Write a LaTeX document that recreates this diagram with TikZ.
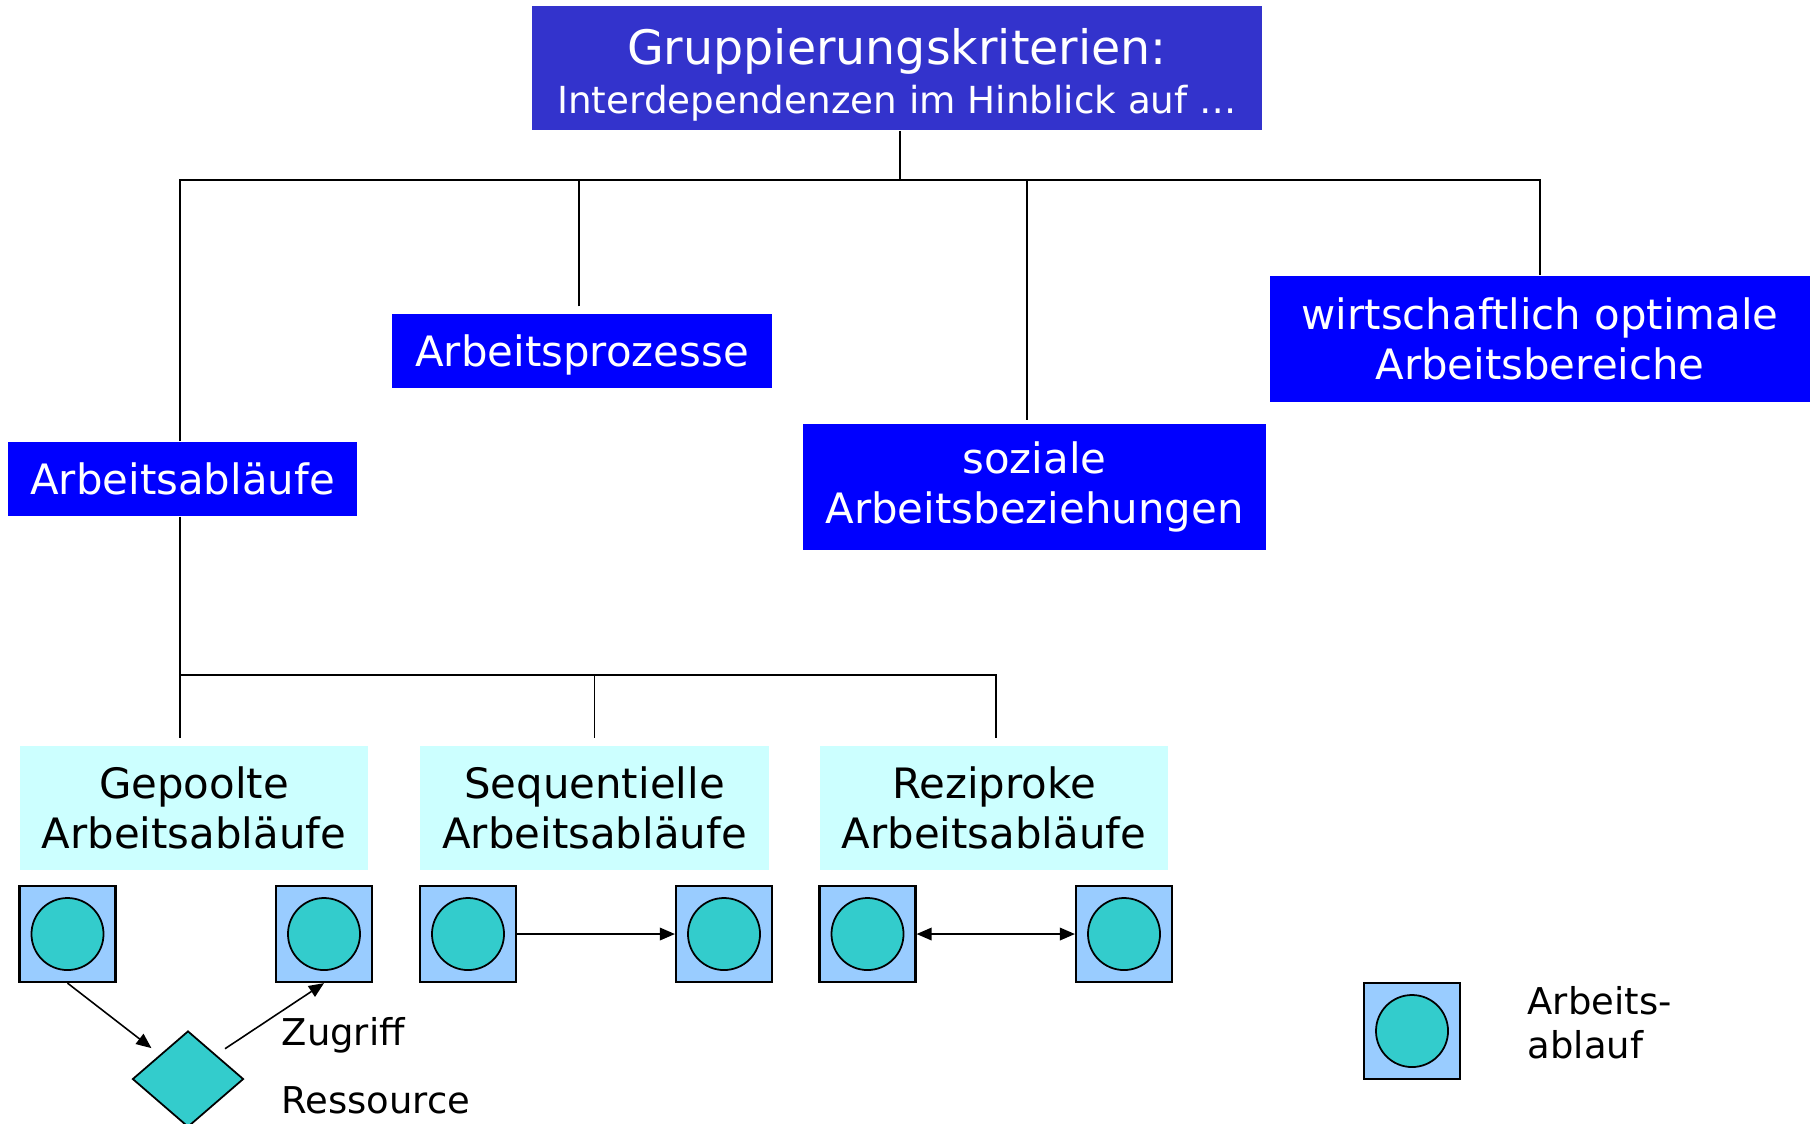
\documentclass[tikz,border=0pt]{standalone}
\usepackage{fontspec}
\setmainfont{DejaVu Sans}
\usetikzlibrary{arrows.meta}
\usetikzlibrary{shapes.geometric}
\definecolor{hd}{RGB}{51,51,204}
\definecolor{bl}{RGB}{0,0,255}
\definecolor{cy}{RGB}{204,255,255}
\definecolor{sq}{RGB}{153,204,255}
\definecolor{ci}{RGB}{51,204,204}

\begin{document}
\begin{tikzpicture}[
    x=0.01cm, y=-0.01cm,
    l/.style={
        line width=0.45pt,
        color=black
    },
    a/.style={
        line width=0.45pt,
        -{Triangle[length=4.3pt,width=3.6pt]}
    },
    hb/.style={
        fill=bl, text=white, inner sep=0pt, align=center,
        font={\fontsize{11.9}{14.4}\selectfont}
    },
    kb/.style={
        fill=cy, inner sep=0pt, align=center,
        minimum width=3.48cm, minimum height=1.24cm,
        font={\fontsize{11.9}{14.4}\selectfont}
    },
    ab/.style={
        draw, fill=sq, line width=0.6pt, inner sep=0pt, minimum size=0.96cm,
        path picture={\draw [fill=ci, line width=0.5pt]
            (path picture bounding box.center) circle (0.36cm);}
    },
    res/.style={
        diamond, draw, fill=ci, line width=0.5pt, inner sep=0pt,
        minimum width=1.11cm, minimum height=0.96cm
    },
    lab/.style={anchor=west, align=left, inner sep=0pt,
        font={\fontsize{10.5}{12.4}\selectfont}}
]
    \useasboundingbox (0,0) rectangle (1810,1123);

    % upper level
    \node [hb, fill=hd, minimum width=7.3cm, minimum height=1.24cm] (top) at (897,68) {};
    \node [hb, fill=none] (toptxt) at ([yshift=-0.07cm]top.center)
        {{\fontsize{13.5}{16}\selectfont Gruppierungskriterien:}\\[-0.3pt]
         {\fontsize{10.6}{13}\selectfont Interdependenzen im Hinblick auf \dots}};
    \node [hb, minimum width=3.49cm, minimum height=0.74cm] (ablauf)  at (182.5,479) {Arbeitsabläufe};
    \node [hb, minimum width=3.80cm, minimum height=0.74cm, text depth=0pt] (prozess) at (582,351) {Arbeitsprozesse};
    \node [hb, minimum width=4.63cm, minimum height=1.26cm] (sozial)  at (1034.5,487) {soziale\\Arbeitsbeziehungen};
    \node [hb, minimum width=5.40cm, minimum height=1.26cm] (wirt)    at (1540,339)  {wirtschaftlich optimale\\Arbeitsbereiche};

    \coordinate (bus) at (180,180);
    \draw [l] ([xshift=0.03cm]top.south) -- ([xshift=0.03cm]top.south |- bus);
    \draw [l] (bus |- ablauf.north) -- (bus) -| (wirt.north);
    \draw [l, shorten <=2pt] ([xshift=-0.03cm]prozess.north) -- ([xshift=-0.03cm]prozess.north |- bus);
    \draw [l, shorten <=1pt] ([xshift=-0.075cm]sozial.north) -- ([xshift=-0.075cm]sozial.north |- bus);

    % lower level
    \node [kb] (gepoolt) at (194,808)   {Gepoolte\\Arbeitsabläufe};
    \node [kb] (sequ)    at (594.5,808) {Sequentielle\\Arbeitsabläufe};
    \node [kb] (rezi)    at (994,808)   {Reziproke\\Arbeitsabläufe};

    \coordinate (bus2) at (180,675);
    \draw [l, shorten >=2pt] (bus2 |- ablauf.south) -- (bus2 |- gepoolt.north);
    \draw [l, shorten >=2pt] (bus2) -| ([xshift=0.02cm]rezi.north);
    \draw [l, shorten >=2pt] (bus2 -| sequ.north) -- (sequ.north);

    % Arbeitsablaeufe
    \node [ab] (g1) at (67.5,934) {};
    \node [ab] (g2) at (324,934)  {};
    \node [ab] (s1) at (468,934)  {};
    \node [ab] (s2) at (724,934)  {};
    \node [ab] (r1) at (867.5,934) {};
    \node [ab] (r2) at (1124,934) {};
    \node [res] (ress) at (188,1079) {};

    \draw [a, shorten >=3pt] (g1.south) -- (ress.north west);
    \draw [a, shorten <=3pt] (ress.north east) -- (g2.south);
    \draw [a] (s1) -- (s2);
    \draw [a, {Triangle[length=4.3pt,width=3.6pt]}-{Triangle[length=4.3pt,width=3.6pt]}] (r1) -- (r2);

    \node [lab] (zugriff) at (281,1035) {Zugriff};
    \node [lab] (resslab) at (281,1100) {Ressource};

    % legend
    \node [ab] (leg) at (1412,1031) {};
    \node [lab] (legtxt) at (1527,1023) {Arbeits-\\ablauf};

\end{tikzpicture}
\end{document}
